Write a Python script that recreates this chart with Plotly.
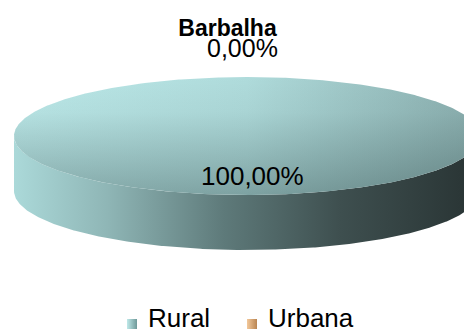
import numpy as np
import plotly.graph_objects as go

# --- data -------------------------------------------------------------
categories = ["Rural", "Urbana"]
values = [100.0, 0.0]
chart_title = "Barbalha"

# --- styling / layout constants ----------------------------------------
W, H = 464, 333
CX, CY = 247, 136          # centre of the pie's top face (axis units = px)
RX, RY = 233, 59           # radii of the top ellipse
DEPTH = 55                 # thickness of the 3-D disc
FONT = "Liberation Sans, Arial, sans-serif"

top_light = {"Rural": ["#bce9e9", "#afdbdb", "#8aaeae"],
             "Urbana": ["#f6cfa4", "#e3b685", "#b58a5c"]}
side_scale = {"Rural": [[0, "#abd9d9"], [0.2, "#8fb6b6"], [0.45, "#5e7a7a"],
                        [0.7, "#3e4f4f"], [1, "#283333"]],
              "Urbana": [[0, "#e8bf92"], [0.5, "#9c7550"], [1, "#4a3624"]]}
legend_grad = {"Rural": ("#bfe9e9", "#6f9999"),
               "Urbana": ("#f3c89a", "#b98552")}


def ellipse_pt(theta_deg, dy=0.0):
    t = np.radians(theta_deg)
    return CX + RX * np.cos(t), CY - RY * np.sin(t) + dy


def pct(v):
    return f"{v:.2f}".replace(".", ",") + "%"


total = sum(values)
shares = [v / total for v in values]

fig = go.Figure()

# slices run clockwise from 12 o'clock
angle = 90.0
slices = []
for cat, share in zip(categories, shares):
    a0 = angle
    a1 = angle - 360.0 * share
    slices.append((cat, share, a0, a1))
    angle = a1

# side walls (front half of each slice only)
for cat, share, a0, a1 in slices:
    if share <= 0:
        continue
    th = np.linspace(a0, a1, 721)
    front = th[np.sin(np.radians(th)) <= 1e-9]
    if front.size < 2:
        continue
    front = np.sort(((front + 180) % 360) - 180)  # -180..0, left to right
    xs, ys = ellipse_pt(front)
    xb, yb = ellipse_pt(front[::-1], DEPTH)
    fig.add_trace(go.Scatter(
        x=np.concatenate([xs, xb, xs[:1]]), y=np.concatenate([ys, yb, ys[:1]]),
        mode="lines", line=dict(width=0), fill="toself",
        fillgradient=dict(type="horizontal", colorscale=side_scale[cat]),
        hoverinfo="skip", showlegend=False))

# top faces
for cat, share, a0, a1 in slices:
    if share <= 0:
        continue
    th = np.linspace(a0, a1, 721)
    xs, ys = ellipse_pt(th)
    if share < 1:
        xs = np.concatenate([[CX], xs, [CX]])
        ys = np.concatenate([[CY], ys, [CY]])
    c = top_light[cat]
    fig.add_trace(go.Scatter(
        x=xs, y=ys, mode="lines", line=dict(width=0), fill="toself",
        fillgradient=dict(type="horizontal",
                          colorscale=[[0, c[0]], [0.5, c[1]], [1, c[2]]]),
        hoverinfo="skip", showlegend=False))
    # shading toward the front edge (back rim -> front rim)
    fig.add_trace(go.Scatter(
        x=xs, y=ys, mode="lines", line=dict(width=0), fill="toself",
        fillgradient=dict(type="vertical", start=CY - RY, stop=CY + RY,
                          colorscale=[[0, "rgba(20,40,40,0.0)"],
                                      [0.3, "rgba(20,40,40,0.04)"],
                                      [1, "rgba(20,40,40,0.32)"]]),
        hoverinfo="skip", showlegend=False))

# percentage labels
for cat, share, a0, a1 in slices:
    mid = (a0 + a1) / 2.0
    k = 0.68 if share >= 0.5 else 1.5
    t = np.radians(mid)
    lx = CX + k * RX * np.cos(t)
    ly = CY - k * RY * np.sin(t)
    if share < 0.5:
        lx -= 5
    else:
        lx += 5
    fig.add_annotation(x=lx, y=ly, text=pct(share * 100), showarrow=False,
                       xanchor="center", yanchor="middle",
                       font=dict(family=FONT, size=26 if share >= 0.5 else 25,
                                 color="#000000"))

# legend row
leg_x = [132, 252]
leg_y = 324
for cat, x in zip(categories, leg_x):
    g0, g1 = legend_grad[cat]
    fig.add_trace(go.Scatter(
        x=[x], y=[leg_y], mode="markers",
        marker=dict(symbol="square", size=10, color=g0,
                    gradient=dict(type="horizontal", color=g1),
                    line=dict(width=0)),
        hoverinfo="skip", showlegend=False, cliponaxis=False))
    fig.add_annotation(x=x + 14, y=leg_y - 6, text=cat, showarrow=False,
                       xanchor="left", yanchor="middle",
                       font=dict(family=FONT, size=26, color="#000000"))

fig.update_layout(
    width=W, height=H,
    margin=dict(l=0, r=0, t=0, b=0),
    paper_bgcolor="#ffffff", plot_bgcolor="#ffffff",
    title=dict(text=chart_title, x=227.5 / W, y=1 - 28 / H,
               xanchor="center", yanchor="middle",
               font=dict(family=FONT, size=23, weight=700, color="#000000")),
    xaxis=dict(range=[0, W], visible=False, fixedrange=True),
    yaxis=dict(range=[H, 0], visible=False, fixedrange=True),
    showlegend=False,
)

fig.write_html("out.html")
